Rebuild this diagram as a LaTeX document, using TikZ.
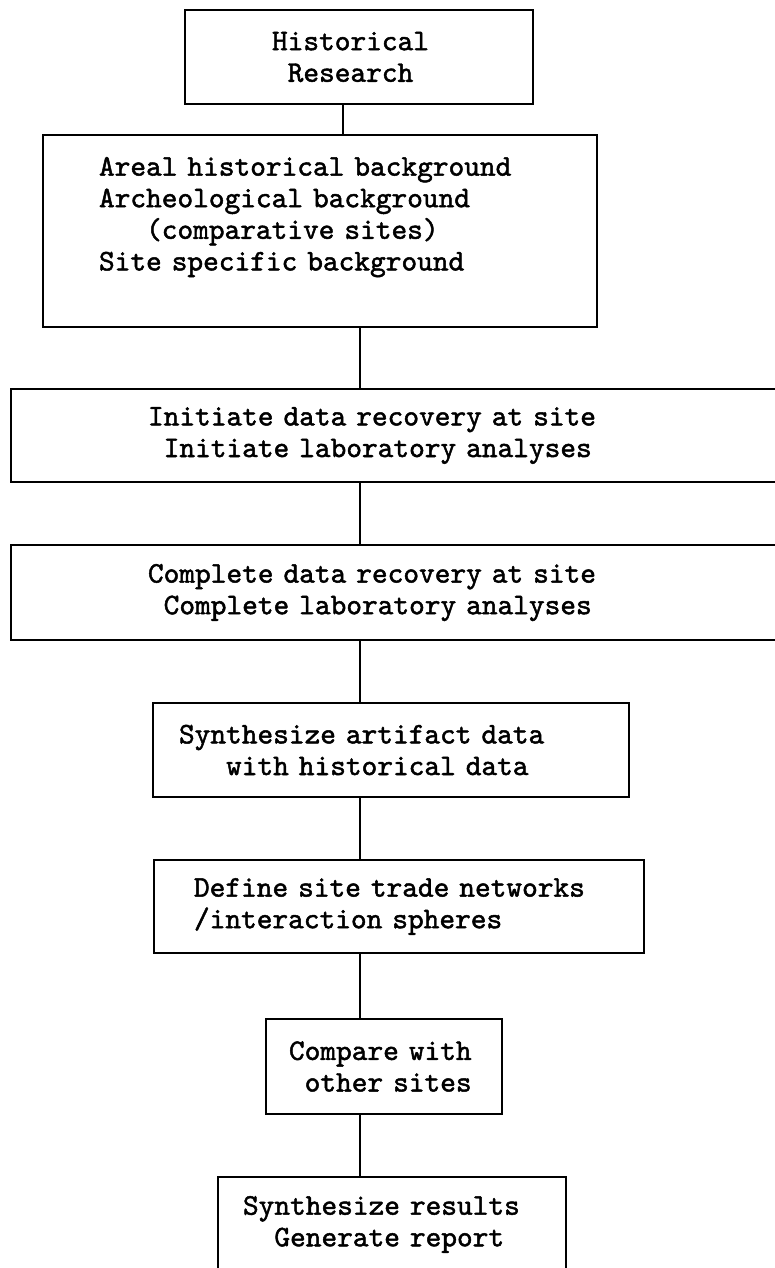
\documentclass[tikz,border=0pt]{standalone}
\usepackage{fontspec}
\setmonofont{lmmono10-regular.otf}[FakeBold=1.6]
\tikzset{
  stepbox/.style={draw, line width=1.8pt, inner ysep=0pt, align=left,
    font=\ttfamily\bfseries\fontsize{29.9}{31.6}\selectfont},
  link/.style={line width=1.4pt}
}

\begin{document}
\begin{tikzpicture}[x=1pt, y=1pt]
  \useasboundingbox (0,0) rectangle (775,-1268);
  % boxes, top to bottom
  \node[stepbox, text width=174pt, inner xsep=87pt, minimum height=94pt] (hist) at (359,-57)
    {Historical\\\hphantom{x}Research};
  \node[stepbox, text width=442pt, inner xsep=56pt, minimum height=192pt] (bg) at (320,-231)
    {Areal historical background\\Archeological background\\\hphantom{xxx}(comparative sites)\\Site specific background\\[3pt]\mbox{}};
  \node[stepbox, text width=505pt, inner xsep=137pt, minimum height=93pt] (init) at (400.5,-435.5)
    {Initiate data recovery at site\\\hphantom{x}Initiate laboratory analyses};
  \node[stepbox, text width=505pt, inner xsep=137pt, minimum height=95pt] (compl) at (400.5,-592.5)
    {Complete data recovery at site\\\hphantom{x}Complete laboratory analyses};
  \node[stepbox, text width=424pt, inner xsep=26pt, minimum height=94pt] (synth) at (391,-750)
    {Synthesize artifact data\\\hphantom{xxx}with historical data};
  \node[stepbox, text width=410pt, inner xsep=40pt, minimum height=93pt] (define) at (399,-906.5)
    {Define site trade networks\\/interaction spheres};
  \node[stepbox, text width=190pt, inner xsep=23pt, minimum height=95pt] (compare) at (384,-1066.5)
    {Compare with\\\hphantom{x}other sites};
  \node[stepbox, text width=298pt, inner xsep=25pt, minimum height=95pt] (results) at (392,-1224.5)
    {Synthesize results\\\hphantom{xx}Generate report};

  % vertical links
  \coordinate (topline) at (343,0);
  \coordinate (spine) at (360,0);
  \draw[link] (hist.south -| topline) -- (bg.north -| topline);
  \draw[link] (bg.south -| spine) -- (init.north -| spine);
  \draw[link] (init.south -| spine) -- (compl.north -| spine);
  \draw[link] (compl.south -| spine) -- (synth.north -| spine);
  \draw[link] (synth.south -| spine) -- (define.north -| spine);
  \draw[link] (define.south -| spine) -- (compare.north -| spine);
  \draw[link] (compare.south -| spine) -- (results.north -| spine);
\end{tikzpicture}
\end{document}
